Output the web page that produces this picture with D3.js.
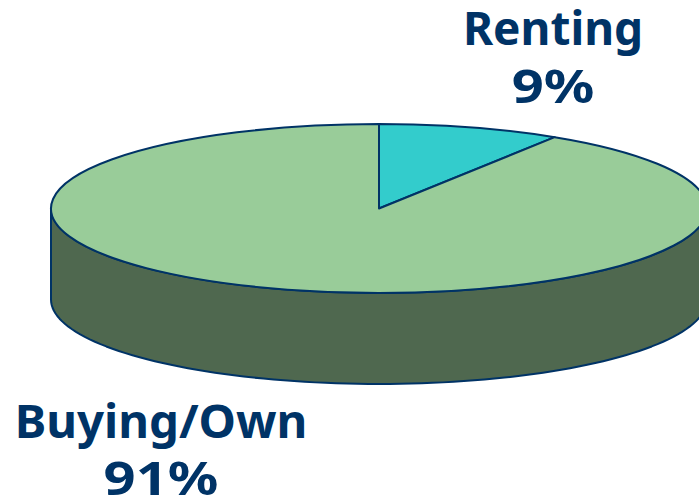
<!DOCTYPE html>
<html><head><meta charset="utf-8">
<script src="https://cdn.jsdelivr.net/npm/d3@7"></script>
<style>html,body{margin:0;padding:0;background:#fff;overflow:hidden}svg{display:block}</style>
</head><body><svg id="c" width="699" height="500"></svg>
<script>
const categories = ["Renting", "Buying/Own"];
const shares = [9, 91];
const sliceColors = ["#33CCCC", "#99CC99"];
const sideColor = "#4F684F";
const strokeColor = "#003366";
const textColor = "#003366";

const cx = 379, cy = 208.5, rx = 328, ry = 84.5, depth = 91;
const svg = d3.select("#c");
const pie = d3.pie().sort(null).value(d => d);
const arcs = pie(shares);

// Wall: the front half of the ellipse, dropped by the disc's thickness
const px = a => cx + rx * Math.sin(a), py = a => cy - ry * Math.cos(a);
const angleScale = d3.scaleLinear().domain([0, 1]).range([Math.PI / 2, 3 * Math.PI / 2]);
const frontAngles = d3.range(0, 1.0001, 1 / 96).map(angleScale);
const wall = d3.area().x(px).y0(py).y1(a => py(a) + depth);
svg.append("path").attr("d", wall(frontAngles))
  .attr("fill", sideColor).attr("stroke", strokeColor).attr("stroke-width", 2).attr("stroke-linejoin", "round");

// Top: ordinary pie slices squashed into an ellipse
const arc = d3.arc().innerRadius(0).outerRadius(rx);
svg.append("g").attr("transform", `translate(${cx},${cy}) scale(1,${ry / rx})`)
  .selectAll("path").data(arcs).join("path")
  .attr("d", arc)
  .attr("fill", (d, i) => sliceColors[i])
  .attr("stroke", strokeColor).attr("stroke-width", 2)
  .attr("stroke-linejoin", "round")
  .attr("vector-effect", "non-scaling-stroke");

const labelPos = [[553, 45, 103], [161, 438, 495]];
const nameStretch = [1, 1.03];
const pctStretch = 1.22;
const labels = svg.append("g").attr("font-family", "'Noto Sans', sans-serif")
  .attr("font-weight", 700).attr("font-size", 46).attr("fill", textColor).attr("text-anchor", "middle");
categories.forEach((c, i) => {
  labels.append("text").attr("transform", `translate(${labelPos[i][0]},${labelPos[i][1]}) scale(${nameStretch[i]},1)`).text(c);
  labels.append("text").attr("transform", `translate(${labelPos[i][0]},${labelPos[i][2]}) scale(${pctStretch},1)`).text(shares[i] + "%");
});
</script></body></html>
